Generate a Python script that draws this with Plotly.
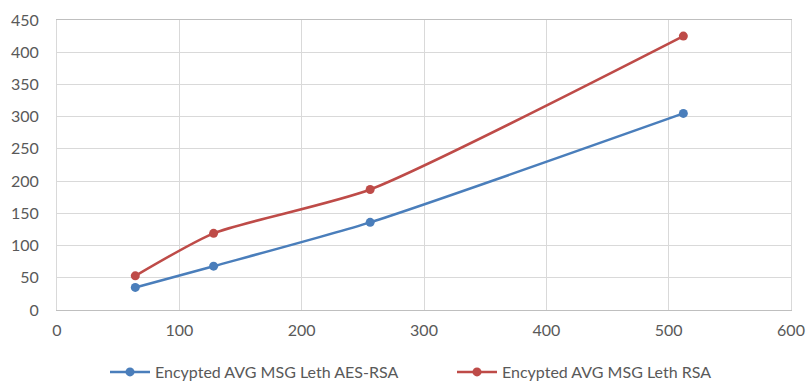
import plotly.graph_objects as go

msg_len = [64, 128, 256, 512]
aes_rsa = [35, 68, 136, 305]
rsa = [53, 119, 187, 425]
names = ["Encypted AVG MSG Leth AES-RSA", "Encypted AVG MSG Leth RSA"]

font_fam = "Lato, sans-serif"

fig = go.Figure()
fig.add_trace(go.Scatter(x=msg_len, y=aes_rsa, name=names[0], mode="lines+markers",
                         line=dict(color="#4a7ebb", width=2.5, shape="spline", smoothing=0.6),
                         marker=dict(size=9, color="#4a7ebb")))
fig.add_trace(go.Scatter(x=msg_len, y=rsa, name=names[1], mode="lines+markers",
                         line=dict(color="#be4b48", width=2.5, shape="spline", smoothing=0.6),
                         marker=dict(size=9, color="#be4b48")))

fig.update_layout(
    width=806, height=385,
    margin=dict(l=57, r=15, t=20, b=75, autoexpand=False),
    paper_bgcolor="white", plot_bgcolor="white",
    font=dict(family=font_fam, size=16, color="#595959"),
    showlegend=True,
    legend=dict(orientation="h", x=(113 - 57 - 8) / 734, xanchor="left",
                y=-(372 - 310) / 290, yanchor="middle",
                font=dict(size=16, color="#595959"), itemwidth=40,
                entrywidth=292, entrywidthmode="pixels"),
    xaxis=dict(range=[0, 600], dtick=100, showgrid=True, gridcolor="#d9d9d9", gridwidth=1,
               showline=True, linecolor="#bfbfbf", linewidth=1, mirror=True, zeroline=False,
               ticks="", ticklabelstandoff=6),
    yaxis=dict(range=[0, 450], dtick=50, showgrid=True, gridcolor="#d9d9d9", gridwidth=1,
               showline=True, linecolor="#d9d9d9", linewidth=1, mirror=True, zeroline=False,
               ticks="", ticklabelstandoff=14),
)
fig.write_html("out.html")
